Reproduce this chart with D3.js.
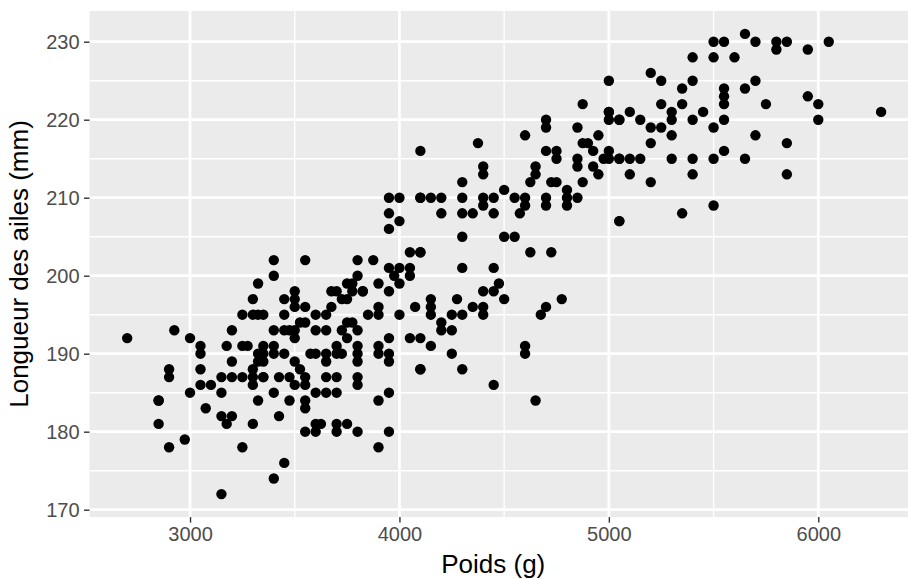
<!DOCTYPE html>
<html><head><meta charset="utf-8">
<script src="https://cdn.jsdelivr.net/npm/d3@7"></script>
<style>body{margin:0;background:#fff}svg{display:block;font-family:"Liberation Sans",Arial,sans-serif}</style>
</head><body><svg id="c" width="908" height="579"></svg>
<script>
// Body mass (g)
const mass = [3325,3950,4000,4100,3950,4000,3950,4050,4100,3400,3550,3800,3875,3400,3950,4000,4050,3975,4050,3800,3900,4000,3750,3775,3775,3500,3675,3700,3825,3950,
3300,3250,3300,3325,3350,2700,2925,3000,3050,3050,3175,3200,3250,3275,3350,3325,3350,3325,3200,2900,2900,3050,3150,3200,3250,3300,3300,3300,3350,3050,3100,3000,3150,2850,3325,
3450,3500,3500,3550,3725,3750,3825,3450,3600,3650,3675,3900,3900,3850,4000,4075,3525,3550,3750,3775,3400,3450,3475,3500,3600,3650,3725,3800,3500,3750,3950,4050,3400,3700,3800,3900,3400,3450,3575,3600,3650,3700,3725,3800,3900,3950,3350,3500,3650,3800,3950,4100,3525,3350,3425,3475,3550,3650,3700,3800,3500,3550,3800,3400,3600,3650,3700,3950,3900,3475,3550,
2850,2850,3075,3150,3200,3175,3300,2975,2900,3250,3150,
3550,3425,3600,3625,3700,3750,3550,3600,3700,3800,3950,3900,3450,3400,
4100,4375,4400,4400,4300,4500,4100,4150,4200,4300,4400,4450,4400,4550,4200,4300,4350,4450,4575,4300,4500,4550,4100,4300,4450,4475,
4875,5000,5000,5050,4700,4700,4600,4850,4950,4875,4900,4925,4700,4750,4750,4850,4975,5000,5050,4650,4850,4925,4650,4950,4625,4725,4750,4875,4800,4600,4600,4700,4700,4800,4800,4850,5050,4625,4725,
4400,4450,4500,4150,4150,4150,4275,4350,4400,4400,4250,4300,4200,4200,4250,4100,4150,4250,4100,4300,4450,
4775,4700,4675,4600,4600,4650,
5650,5500,5550,5400,5500,5600,5200,5250,5400,5000,5350,5550,5550,5550,5650,5250,5350,5450,5300,5300,5000,5100,5050,5150,5400,5550,5200,5250,5500,5300,5200,5550,5000,5050,5100,5150,5300,5400,5500,5650,5100,5400,5200,5500,5350,5050,
5700,5800,5800,5850,5950,6050,5700,5750,5950,6000,6000,6300,5700,5850,5850];
// Flipper length (mm)
const flipper = [199,210,210,210,208,207,206,203,203,202,202,202,202,200,201,201,201,200,200,200,199,199,199,199,198,198,198,198,198,198,
197,195,195,195,195,192,193,192,191,190,191,193,191,191,191,190,190,189,189,188,187,188,187,187,187,188,187,186,187,186,186,185,185,184,184,
197,197,196,196,197,197,198,195,195,195,196,196,195,195,195,196,194,194,194,194,193,193,193,193,193,193,193,193,192,192,192,192,191,191,191,191,190,190,190,190,190,190,190,190,190,190,189,189,189,189,189,188,188,187,187,187,187,187,187,187,186,186,186,185,185,185,185,185,184,184,184,
184,181,183,182,182,181,181,179,178,178,172,
183,182,181,181,181,181,180,180,180,180,180,178,176,174,
216,217,214,213,212,211,210,210,210,210,210,210,209,210,208,208,208,208,208,205,205,205,203,201,201,199,
222,221,220,220,220,219,218,219,218,217,217,216,216,216,215,215,215,215,215,214,214,214,213,213,212,212,212,212,211,210,209,210,209,210,209,210,207,203,203,
198,198,197,197,196,195,197,196,196,195,195,195,194,193,193,192,191,190,188,188,186,
197,196,195,191,190,184,
231,230,230,228,228,228,226,225,225,225,224,224,223,222,224,222,222,221,221,220,221,221,220,220,220,220,219,219,219,218,217,216,216,215,215,215,215,215,215,215,213,213,212,209,208,207,
230,230,229,230,229,230,225,222,223,222,220,221,218,217,213];
const xTicks = [3000,4000,5000,6000];
const yTicks = [170,180,190,200,210,220,230];
const xTitle = "Poids (g)";
const yTitle = "Longueur des ailes (mm)";

const svg = d3.select("#c");
const x = d3.scaleLinear().domain([2520,6480]).range([89.5,918.8]);
const y = d3.scaleLinear().domain([169.05,233.95]).range([517.1,10.9]);
const [L,R] = x.range(), [B,T] = y.range();

svg.append("rect").attr("x",L).attr("y",T).attr("width",R-L).attr("height",B-T).attr("fill","#EBEBEB");
const g = svg.append("g");
const xMinor = [2500,3500,4500,5500,6500].filter(v=>v>=2520&&v<=6480);
const yMinor = [175,185,195,205,215,225];
g.selectAll(".xm").data(xMinor).join("line").attr("x1",d=>x(d)).attr("x2",d=>x(d)).attr("y1",T).attr("y2",B).attr("stroke","#fff").attr("stroke-width",1.4);
g.selectAll(".ym").data(yMinor).join("line").attr("y1",d=>y(d)).attr("y2",d=>y(d)).attr("x1",L).attr("x2",R).attr("stroke","#fff").attr("stroke-width",1.4);
g.selectAll(".xM").data(xTicks).join("line").attr("x1",d=>x(d)).attr("x2",d=>x(d)).attr("y1",T).attr("y2",B).attr("stroke","#fff").attr("stroke-width",2.8);
g.selectAll(".yM").data(yTicks).join("line").attr("y1",d=>y(d)).attr("y2",d=>y(d)).attr("x1",L).attr("x2",R).attr("stroke","#fff").attr("stroke-width",2.8);

const pts = mass.map((m,i)=>({m, f:flipper[i]}));
svg.append("g").selectAll("circle").data(pts).join("circle")
  .attr("cx",d=>x(d.m)).attr("cy",d=>y(d.f)).attr("r",5.2).attr("fill","#000");

const xAxis = svg.append("g").attr("transform",`translate(0,${B})`)
  .call(d3.axisBottom(x).tickValues(xTicks).tickSize(5.5).tickPadding(4.4).tickFormat(d3.format("d")));
const yAxis = svg.append("g").attr("transform",`translate(${L},0)`)
  .call(d3.axisLeft(y).tickValues(yTicks).tickSize(5.5).tickPadding(4.4).tickFormat(d3.format("d")));
[xAxis,yAxis].forEach(a=>{
  a.select(".domain").remove();
  a.selectAll(".tick line").attr("stroke","#333333").attr("stroke-width",1.4);
  a.selectAll(".tick text").attr("fill","#4D4D4D").style("font-size","20px").style("font-family","'Liberation Sans',Arial,sans-serif");
});
svg.append("text").attr("x",(L+Math.min(R,908-11))/2).attr("y",573).attr("text-anchor","middle")
  .style("font-size","26px").attr("fill","#000").text(xTitle);
svg.append("text").attr("transform",`translate(28,${(T+B)/2}) rotate(-90)`).attr("text-anchor","middle")
  .style("font-size","26px").attr("fill","#000").text(yTitle);
</script></body></html>
